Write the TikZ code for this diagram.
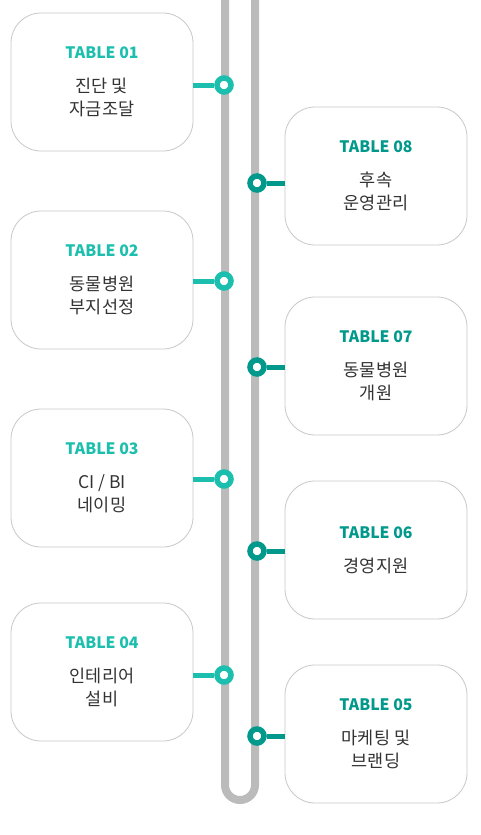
\documentclass[tikz,border=0pt]{standalone}
\usepackage{fontspec}
\setmainfont{Noto Sans CJK KR}
\definecolor{lteal}{HTML}{1CBFAE}
\definecolor{dteal}{HTML}{00998B}
\definecolor{trackgray}{HTML}{BBBBBB}
\definecolor{cardline}{HTML}{C8C8C8}
\definecolor{bodytext}{HTML}{333333}
\newcommand\titlefnt{\bfseries\fontsize{15.8}{17}\selectfont}
\begin{document}
\begin{tikzpicture}[x=1pt,y=-1pt,
  card/.style={draw=cardline,line width=0.8pt,fill=white,rounded corners=30pt,minimum width=182pt,minimum height=138pt,inner sep=0pt,align=center,text=bodytext,font=\fontsize{17.5}{23}\selectfont},
  dot/.style={circle,draw=#1,line width=5.5pt,fill=white,minimum size=14pt,inner sep=0pt},
  link/.style={draw=#1,line width=5pt}]
\useasboundingbox (0,0) rectangle (480,835);
%track
\draw[trackgray,line width=8pt] (225,-10) -- (225,785) arc[start angle=180,end angle=0,radius=15] -- (255,-10);
%left cards
\foreach\n/\yc/\yd/\txt in {01/82/85/{진단 및\\자금조달},02/280/281/{동물병원\\부지선정},03/478/479/{CI {/} BI\\네이밍},04/672/675/{인테리어\\설비}}
{
\node[card] (card\n) at (102,\yc) {{\titlefnt\color{lteal}TABLE \n}\\[11pt]\txt};
\node[dot=lteal] (dot\n) at (224,\yd) {};
\draw[link=lteal] (card\n.east |- dot\n) -- (dot\n.west);
}
%right cards
\foreach\n/\yc/\yd/\txt in {08/176/183/{후속\\운영관리},07/366/367/{동물병원\\개원},06/550/551/{경영지원},05/734/736/{마케팅 및\\브랜딩}}
{
\node[card] (card\n) at (376,\yc) {{\titlefnt\color{dteal}TABLE \n}\\[11pt]\txt};
\node[dot=dteal] (dot\n) at (257,\yd) {};
\draw[link=dteal] (dot\n.east) -- (card\n.west |- dot\n);
}
\end{tikzpicture}
\end{document}
